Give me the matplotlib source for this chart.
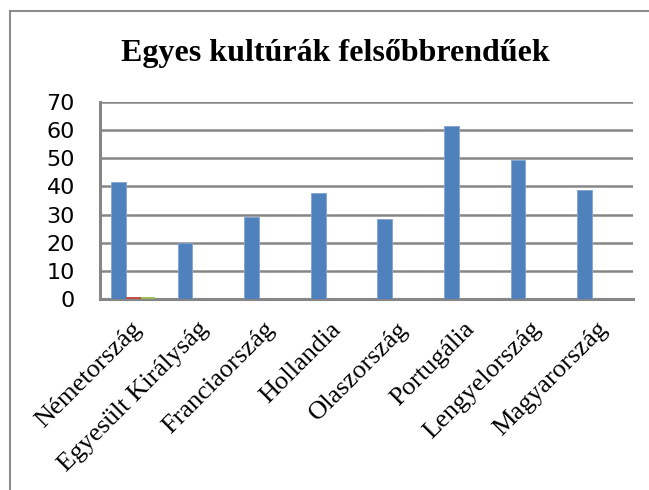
import numpy as np
import matplotlib
matplotlib.use("Agg")
import matplotlib.pyplot as plt
from matplotlib.lines import Line2D
from matplotlib.transforms import ScaledTranslation

# data
countries = ["Németország", "Egyesült Királyság", "Franciaország", "Hollandia",
             "Olaszország", "Portugália", "Lengyelország", "Magyarország"]
series1 = [41.5, 20.0, 29.3, 37.8, 28.6, 61.4, 49.3, 38.6]
series2 = [0.8, 0, 0, 0, 0, 0, 0, 0]
series3 = [0.8, 0, 0, 0, 0, 0, 0, 0]
yticks = [0, 10, 20, 30, 40, 50, 60, 70]
title = "Egyes kultúrák felsőbbrendűek"

W, H = 649, 490
fig = plt.figure(figsize=(W / 100, H / 100), dpi=100)

# plot area in pixel coords
left, right, top, bottom = 100, 632.7, 101.7, 299.3
ax = fig.add_axes([left / W, 1 - bottom / H, (right - left) / W, (bottom - top) / H])

x = np.arange(len(countries))
w = 1 / 4.5
ax.bar(x - w, series1, w, color="#4F81BD", edgecolor="#7FA3D0", linewidth=0.6, zorder=3)
ax.bar(x, series2, w, color="#C0504D", zorder=3)
ax.bar(x + w, series3, w, color="#9BBB59", zorder=3)

ax.set_xlim(-0.5, len(countries) - 0.5)
ax.set_ylim(0, 70)
ax.set_yticks(yticks)
ax.set_yticklabels([str(v) for v in yticks], fontsize=16, family="DejaVu Sans")
ax.tick_params(axis="y", length=0, pad=18)
ax.set_xticks(x)
ax.set_xticklabels(countries, rotation=45, ha="right", va="center",
                   rotation_mode="anchor", fontsize=19, family="Liberation Serif")
ax.tick_params(axis="x", length=0, pad=19)
# nudge labels a little to the right, like the reference
off = ScaledTranslation(5 / 100, 0, fig.dpi_scale_trans)
for lab in ax.get_xticklabels():
    lab.set_transform(lab.get_transform() + off)

ax.yaxis.grid(True, color="#868686", linewidth=1.8, zorder=0)
ax.set_axisbelow(True)
for s in ["top", "right"]:
    ax.spines[s].set_visible(False)
for s in ["left", "bottom"]:
    ax.spines[s].set_color("#868686")
    ax.spines[s].set_linewidth(2.2)

fig.text(335 / W, 1 - 61 / H, title, ha="center", va="baseline",
         fontsize=23, fontweight="bold", family="Liberation Serif")

# chart area border (only top and left visible in the crop)
bx, by = 9.5 / W, 1 - 11.5 / H
fig.add_artist(Line2D([bx, bx], [0, by], transform=fig.transFigure, color="#8C8C8C", linewidth=1.5))
fig.add_artist(Line2D([bx, 1], [by, by], transform=fig.transFigure, color="#8C8C8C", linewidth=1.5))

fig.savefig("out.png", dpi=100)
